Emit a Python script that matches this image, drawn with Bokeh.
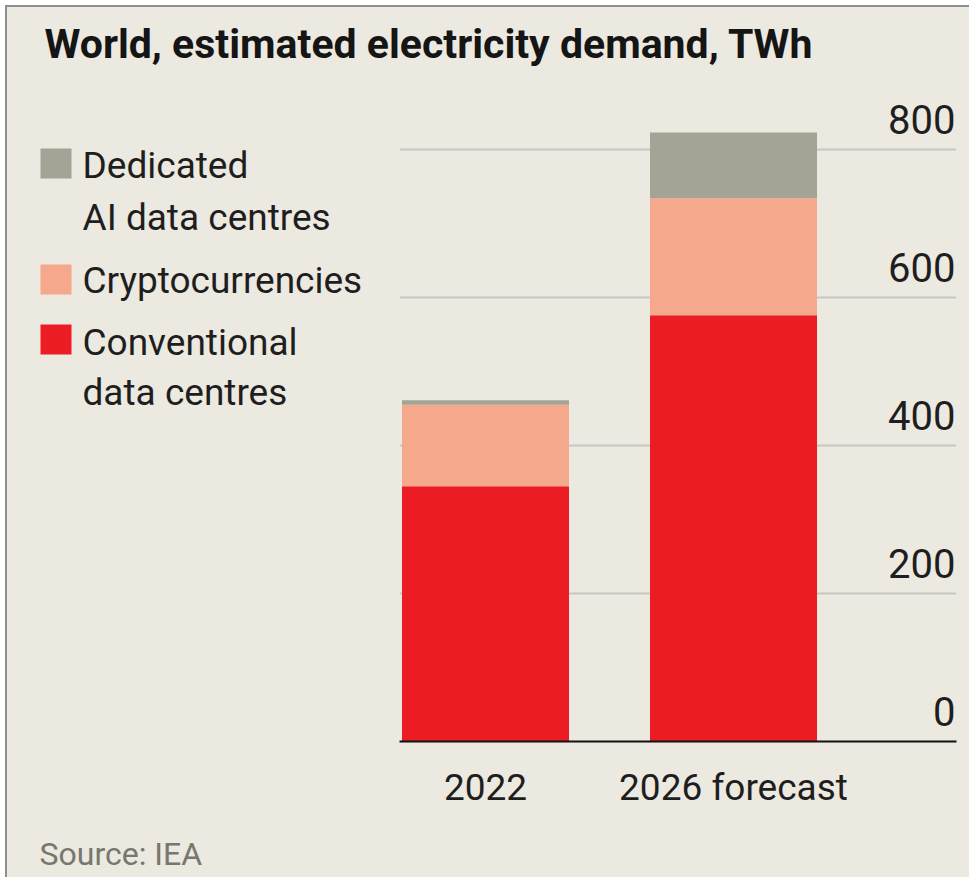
from bokeh.plotting import figure
from bokeh.layouts import column, row
from bokeh.models import Range1d, FixedTicker, ColumnDataSource, LabelSet
from bokeh.core.properties import value
from bokeh.embed import file_html
from bokeh.resources import INLINE

# ---- data ----
categories = ["2022", "2026 forecast"]
conventional = [345, 576]
crypto = [110, 158]
ai = [6, 89]
series_names = ["Dedicated\nAI data centres", "Cryptocurrencies", "Conventional\ndata centres"]
y_ticks = [0, 200, 400, 600, 800]
title_text = "World, estimated electricity demand, TWh"
source_text = "Source: IEA"

# ---- style ----
BG = "#ECE9E0"
RED = "#EC1C24"
PINK = "#F6A88C"
GREY = "#A3A396"
GRID = "#C6C7C3"
INK = "#1E1E1E"
SRC = "#77776F"
FONT = "Roboto"

W, H = 969, 877
OX, OY = 5, 5                         # page offset of the whole panel
FL, FR, FB, FT = 397, 954, 739, 90    # chart frame edges (page px)
SB = 820                              # top of the source strip (page px)
PX_PER_UNIT = 0.74
x_center0, x_step = 483, 248


def deco_fig(x0, x1, y0, y1, bottom_border=0):
    """A figure with page-pixel coordinates (y downwards)."""
    f = figure(width=x1 - x0, height=y1 - y0, output_backend="svg", toolbar_location=None,
               title=None, x_range=Range1d(x0, x1), y_range=Range1d(y1 - bottom_border, y0),
               x_axis_type=None, y_axis_type=None, min_border=0,
               background_fill_color=BG, border_fill_color=BG, outline_line_color=None)
    f.min_border_bottom = bottom_border
    f.xgrid.visible = False
    f.ygrid.visible = False
    return f


def add_texts(f, xs_, ys_, texts, size, color, style="normal"):
    s = ColumnDataSource(dict(x=xs_, y=ys_, t=texts))
    f.add_layout(LabelSet(x="x", y="y", text="t", source=s, text_align="left",
                          text_baseline="alphabetic", text_font=value(FONT),
                          text_font_style=style, text_font_size=size, text_color=color))


# ---- title strip ----
tf = deco_fig(OX, W, OY, FT)
add_texts(tf, [42], [55], [title_text], "41px", "#151515", "bold")

# ---- legend column ----
lf = deco_fig(OX, FL, FT, SB, bottom_border=SB - FB)
legend_colors = [GREY, PINK, RED]
square_tops = [146, 262, 322]
line_baselines = [[175, 227], [290], [352, 402]]
lf.rect(x=[38 + 15.5] * 3, y=[t + 15 for t in square_tops], width=31, height=30,
        fill_color=legend_colors, line_color=None)
lx, ly, lt = [], [], []
for name, bases in zip(series_names, line_baselines):
    for line, b in zip(name.split("\n"), bases):
        lx.append(80)
        ly.append(b)
        lt.append(line)
add_texts(lf, lx, ly, lt, "37px", INK)

# ---- source strip ----
sf = deco_fig(OX, W, SB, H)
add_texts(sf, [37], [862], [source_text], "32px", SRC)

# ---- chart ----
xs = (FL - x_center0) / x_step
xe = (FR - x_center0) / x_step
ye = (FB - FT) / PX_PER_UNIT

p = figure(width=W - FL, height=SB - FT, output_backend="svg", toolbar_location=None,
           title=None, x_range=Range1d(xs, xe), y_range=Range1d(0, ye),
           min_border_left=0, min_border_right=W - FR,
           min_border_top=0, min_border_bottom=SB - FB,
           background_fill_color=BG, border_fill_color=BG, outline_line_color=None)

idx = list(range(len(categories)))
src = ColumnDataSource(dict(x=idx, conv=conventional, crypto=crypto, ai=ai))
p.vbar_stack(["conv", "crypto", "ai"], x="x", width=167 / x_step, source=src,
             color=[RED, PINK, GREY], line_color=None)

p.yaxis.visible = False
p.xaxis.ticker = FixedTicker(ticks=idx)
p.xaxis.major_label_overrides = {i: c for i, c in zip(idx, categories)}
p.xaxis.major_tick_line_color = None
p.xaxis.minor_tick_line_color = None
p.xaxis.axis_line_color = "#111111"
p.xaxis.axis_line_width = 2
p.xaxis.major_label_text_font = FONT
p.xaxis.major_label_text_font_size = "37px"
p.xaxis.major_label_text_color = INK
p.xaxis.major_label_standoff = 18
p.xgrid.visible = False
p.ygrid.ticker = FixedTicker(ticks=[t for t in y_ticks if t > 0])
p.ygrid.grid_line_color = GRID
p.ygrid.grid_line_width = 2

tick_src = ColumnDataSource(dict(x=[xe] * len(y_ticks), y=y_ticks, t=[str(t) for t in y_ticks]))
p.add_layout(LabelSet(x="x", y="y", text="t", source=tick_src, text_align="right",
                      text_baseline="alphabetic", y_offset=16, x_offset=-1,
                      text_font=value(FONT), text_font_size="40px", text_color=INK))

layout = column(tf, row(lf, p, spacing=0), sf, spacing=0)
layout.margin = (OY, 0, 0, OX)
layout.styles = {"border-top": "2px solid #8f8f8f", "border-left": "2px solid #8f8f8f",
                 "background-color": BG}

open("out.html", "w").write(file_html(layout, INLINE))
